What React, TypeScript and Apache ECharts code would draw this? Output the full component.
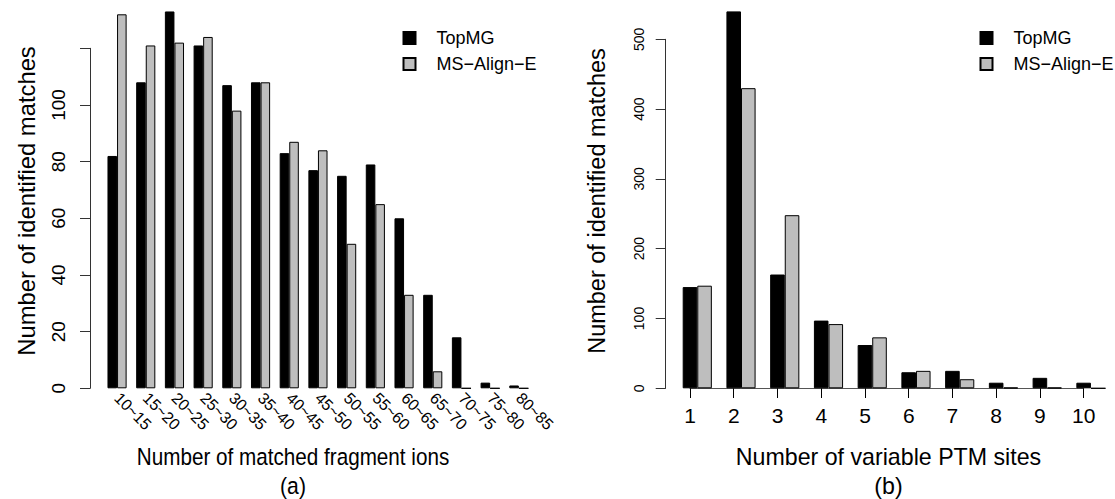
import React, { useEffect, useRef } from "react";
import * as echarts from "echarts";

const leftCategories = ["10~15", "15~20", "20~25", "25~30", "30~35", "35~40", "40~45", "45~50", "50~55", "55~60", "60~65", "65~70", "70~75", "75~80", "80~85"];
const leftTopMG = [82, 108, 133, 121, 107, 108, 83, 77, 75, 79, 60, 33, 18, 2, 1];
const leftMSAlignE = [132, 121, 122, 124, 98, 108, 87, 84, 51, 65, 33, 6, 0, 0, 0];

const rightCategories = ["1", "2", "3", "4", "5", "6", "7", "8", "9", "10"];
const rightTopMG = [145, 540, 163, 97, 62, 23, 25, 8, 15, 8];
const rightMSAlignE = [147, 430, 248, 92, 73, 25, 13, 1, 1, 0];

const seriesNames = ["TopMG", "MS\u2212Align\u2212E"];
const FONT = "'Liberation Sans', Arial, Helvetica, sans-serif";

export default function App() {
  const ref = useRef<HTMLDivElement>(null);
  useEffect(() => {
    document.body.style.margin = "0";
    const chart = echarts.init(ref.current!, null, { renderer: "svg" });
    const barStyle = (color: string) => ({ color, borderColor: "#000", borderWidth: 1 });
    const legendBase = {
      orient: "vertical",
      top: 29,
      padding: 0,
      itemWidth: 12,
      itemHeight: 12,
      itemGap: 8,
      icon: "rect",
      textStyle: { fontFamily: FONT, fontSize: 18, color: "#000", lineHeight: 12, padding: [0, 0, 0, 16] },
      data: seriesNames,
      selectedMode: false,
    };
    const txt = (text: string, x: number, y: number, size: number, rot = 0, sx = 1) => ({
      type: "text",
      x,
      y,
      rotation: rot,
      scaleX: sx,
      style: { text, font: `${size}px ${FONT}`, fill: "#000", textAlign: "center", textVerticalAlign: "middle" },
    });
    chart.setOption({
      animation: false,
      backgroundColor: "#fff",
      textStyle: { fontFamily: FONT },
      legend: [
        { ...legendBase, left: 402.5 },
        { ...legendBase, left: 979.5 },
      ],
      grid: [
        { left: 102.7, width: 430.5, top: 48.3, height: 340 },
        { left: 675.4, width: 437.4, top: 39.3, height: 349 },
        { left: 690, width: 393.7, top: 39.3, height: 349 },
      ],
      xAxis: [
        {
          type: "category",
          gridIndex: 0,
          data: leftCategories,
          axisLine: { show: false },
          axisTick: { show: false },
          axisLabel: { rotate: -45, interval: 0, fontSize: 16, color: "#000", margin: 7, fontFamily: FONT },
        },
        { type: "category", gridIndex: 1, data: rightCategories, show: false },
        {
          type: "value",
          gridIndex: 2,
          min: 1,
          max: 10,
          interval: 1,
          offset: 3.7,
          splitLine: { show: false },
          axisLine: { show: true, lineStyle: { color: "#555", width: 1 } },
          axisTick: { show: true, length: 9.7, lineStyle: { color: "#000" } },
          axisLabel: { fontSize: 21, color: "#000", margin: 13, fontFamily: FONT },
        },
      ],
      yAxis: [
        {
          type: "value",
          gridIndex: 0,
          min: 0,
          max: 120,
          interval: 20,
          offset: 12.7,
          splitLine: { show: false },
          axisLine: { show: true, lineStyle: { color: "#333" } },
          axisTick: { show: true, length: 10, lineStyle: { color: "#333" } },
          axisLabel: {
            rotate: 90,
            fontSize: 19,
            color: "#000",
            margin: 22,
            fontFamily: FONT,
            formatter: (v: number) => (v === 120 ? "" : String(v)),
          },
        },
        {
          type: "value",
          gridIndex: 1,
          min: 0,
          max: 500,
          interval: 100,
          offset: 9.7,
          splitLine: { show: false },
          axisLine: { show: true, lineStyle: { color: "#333" } },
          axisTick: { show: true, length: 10, lineStyle: { color: "#333" } },
          axisLabel: { rotate: 90, fontSize: 14, color: "#000", margin: 20, fontFamily: FONT },
        },
        { type: "value", gridIndex: 2, show: false, min: 0, max: 1 },
      ],
      series: [
        { type: "bar", name: seriesNames[0], xAxisIndex: 0, yAxisIndex: 0, data: leftTopMG, barGap: "0%", barCategoryGap: "33.33%", clip: false, itemStyle: barStyle("#000") },
        { type: "bar", name: seriesNames[1], xAxisIndex: 0, yAxisIndex: 0, data: leftMSAlignE, barGap: "0%", barCategoryGap: "33.33%", clip: false, itemStyle: barStyle("#bebebe") },
        { type: "bar", name: seriesNames[0], xAxisIndex: 1, yAxisIndex: 1, data: rightTopMG, barGap: "0%", barCategoryGap: "33.33%", clip: false, itemStyle: barStyle("#000") },
        { type: "bar", name: seriesNames[1], xAxisIndex: 1, yAxisIndex: 1, data: rightMSAlignE, barGap: "0%", barCategoryGap: "33.33%", clip: false, itemStyle: barStyle("#bebebe") },
      ],
      graphic: [
        txt("Number of identified matches", 26.7, 201, 23.8, Math.PI / 2),
        txt("Number of identified matches", 597, 201, 23.5, Math.PI / 2),
        txt("Number of matched fragment ions", 293, 457, 23.5, 0, 0.88),
        txt("(a)", 293, 486, 23.5, 0, 0.9),
        txt("Number of variable PTM sites", 888.5, 457, 23.2),
        txt("(b)", 888.5, 486, 23.2),
      ],
    });
    return () => chart.dispose();
  }, []);
  return <div ref={ref} style={{ width: 1115, height: 499 }} />;
}
